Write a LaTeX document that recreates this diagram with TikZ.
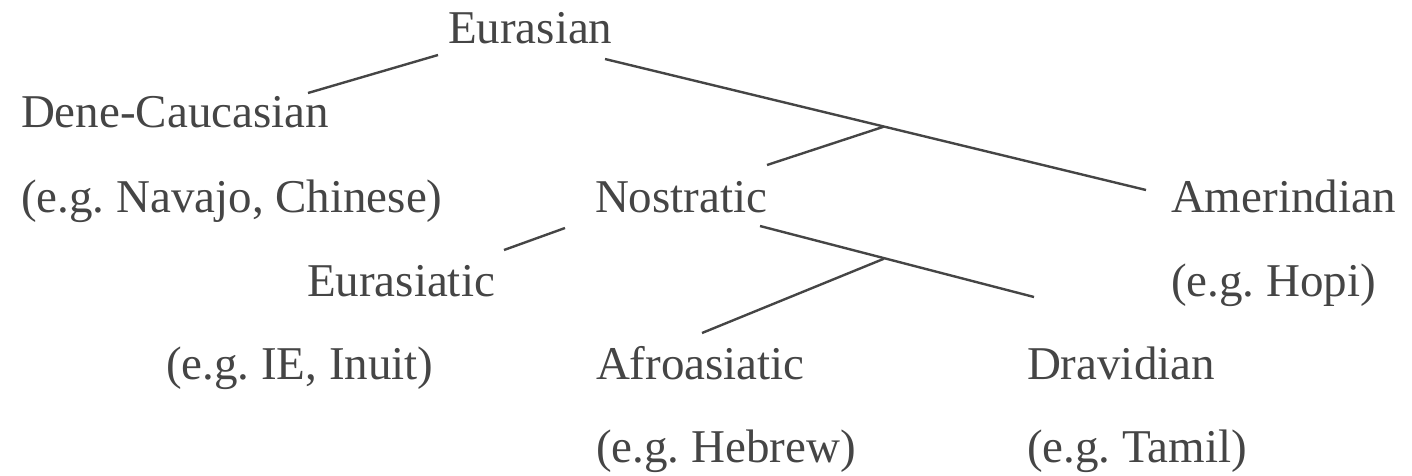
\documentclass[tikz,border=0pt]{standalone}
\usepackage{fontspec}
\setmainfont{Liberation Serif}
\definecolor{ink}{HTML}{454545}
\frenchspacing
\begin{document}
\begin{tikzpicture}[x=1pt,y=-1pt,
  lbl/.style={anchor=base west,inner sep=0pt,outer sep=0pt,text=ink,
    font=\fontsize{47}{52}\selectfont},
  branch/.style={draw=ink,line width=2.4pt,line cap=butt}]
\useasboundingbox (0,0) rectangle (1412,475);
% rows: 43, 127, 212, 296, 379, 462
\node[lbl] (eur)  at (448,43)  {Eurasian};
\node[lbl] (dene) at (21,127)  {Dene-Caucasian};
\node[lbl] (denex) at (21,212) {(e.g.\ Navajo, Chinese)};
\node[lbl] (nos)  at (595,212) {Nostratic};
\node[lbl] (ame)  at (1171,212) {Amerindian};
\node[lbl] (amex) at (1171,296) {(e.g.\ Hopi)};
\node[lbl] (eua)  at (307,296) {Eurasiatic};
\node[lbl] (euax) at (166,379) {(e.g.\ IE, Inuit)};
\node[lbl] (afr)  at (596,379) {Afroasiatic};
\node[lbl] (afrx) at (596,462) {(e.g.\ Hebrew)};
\node[lbl] (dra)  at (1027,379) {Dravidian};
\node[lbl] (drax) at (1027,462) {(e.g.\ Tamil)};
% connector end points
\coordinate (eurL) at (438,55);
\coordinate (eurR) at (605,59);
\coordinate (deneT) at (308,93);
\coordinate (ameT) at (1146,190);
\coordinate (j1) at (884,126.6);
\coordinate (nosT) at (767,165);
\coordinate (nosL) at (565,228);
\coordinate (nosR) at (760,226);
\coordinate (euaT) at (504,250);
\coordinate (draT) at (1034,297);
\coordinate (j2) at (884,258.7);
\coordinate (afrT) at (702,333);
\draw[branch] (eurL) -- (deneT);
\draw[branch] (eurR) -- (ameT);
\draw[branch] (j1) -- (nosT);
\draw[branch] (nosL) -- (euaT);
\draw[branch] (nosR) -- (draT);
\draw[branch] (j2) -- (afrT);
\end{tikzpicture}
\end{document}
